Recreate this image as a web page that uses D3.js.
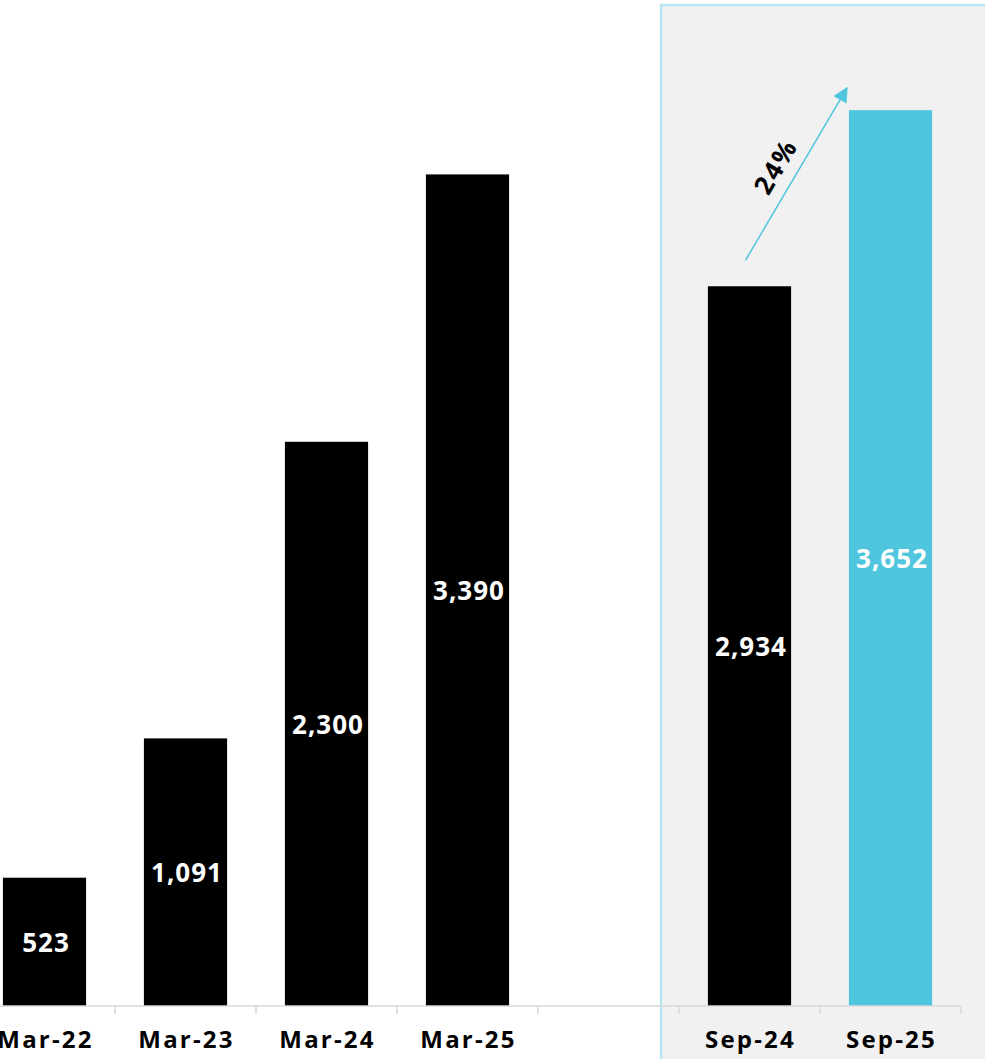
<!DOCTYPE html>
<html>
<head>
<meta charset="utf-8">
<script src="https://cdn.jsdelivr.net/npm/d3@7"></script>
<style>
  html, body { margin: 0; padding: 0; background: #ffffff; }
  svg { display: block; }
  text { font-family: "Open Sans", "Noto Sans", sans-serif; font-weight: 700; }
</style>
</head>
<body>
<svg id="chart" width="985" height="1059"></svg>
<script>
// Period labels (the blank slot separates the annual and half-year groups)
const categories = ["Mar-22", "Mar-23", "Mar-24", "Mar-25", "", "Sep-24", "Sep-25"];
const annualValues = [523, 1091, 2300, 3390];
const halfYearValues = [2934, 3652];
const annualLabels = ["Mar-22", "Mar-23", "Mar-24", "Mar-25"];
const halfYearLabels = ["Sep-24", "Sep-25"];

const bars = [
  ...annualLabels.map((c, i) => ({ cat: c, value: annualValues[i], color: "#000000" })),
  { cat: halfYearLabels[0], value: halfYearValues[0], color: "#000000" },
  { cat: halfYearLabels[1], value: halfYearValues[1], color: "#4FC5DE" }
];

const W = 985, H = 1059;
const baseY = 1006;
const svg = d3.select("#chart");

const x = d3.scaleBand()
  .domain(categories)
  .range([-26, 961])
  .paddingInner(0.41)
  .paddingOuter(0.205);

const y = d3.scaleLinear()
  .domain([0, 4101])
  .range([baseY, 0]);

const step = x.step();
const gap = step - x.bandwidth();
const slotLeft = c => x(c) - gap / 2;

// Shaded half-year panel
const panelX = slotLeft("Sep-24") - 18;
svg.append("rect")
  .attr("x", panelX)
  .attr("y", 5)
  .attr("width", W - panelX + 20)
  .attr("height", H)
  .attr("fill", "#f1f1f1")
  .attr("stroke", "#b8e6f0")
  .attr("stroke-width", 2.5);

// Bars
svg.append("g").selectAll("rect")
  .data(bars)
  .join("rect")
  .attr("x", d => x(d.cat))
  .attr("y", d => y(d.value))
  .attr("width", x.bandwidth())
  .attr("height", d => y(0) - y(d.value))
  .attr("fill", d => d.color);

// Value labels centred in each bar
svg.append("g").selectAll("text")
  .data(bars)
  .join("text")
  .attr("x", d => x(d.cat) + x.bandwidth() / 2 + 1.5)
  .attr("y", d => (y(d.value) + y(0)) / 2)
  .attr("text-anchor", "middle")
  .attr("dominant-baseline", "central")
  .attr("fill", "#ffffff")
  .attr("font-size", 26)
  .attr("letter-spacing", 1)
  .text(d => d3.format(",")(d.value));

// Category axis: baseline with separators at slot boundaries
const axisG = svg.append("g");
const bounds = categories.map(c => slotLeft(c)).concat([slotLeft(categories[categories.length - 1]) + step]);
axisG.append("line")
  .attr("x1", 0).attr("x2", bounds[bounds.length - 1])
  .attr("y1", baseY).attr("y2", baseY)
  .attr("stroke", "#d9d9d9").attr("stroke-width", 1.5);
axisG.selectAll("line.sep")
  .data(bounds.filter(b => b > 0))
  .join("line")
  .attr("class", "sep")
  .attr("x1", d => d).attr("x2", d => d)
  .attr("y1", baseY).attr("y2", baseY + 8)
  .attr("stroke", "#d9d9d9").attr("stroke-width", 1.5);

const labelAxis = svg.append("g")
  .attr("transform", `translate(0,${baseY})`)
  .call(d3.axisBottom(x).tickSize(0).tickPadding(25).tickValues(categories.filter(c => c)));
labelAxis.select(".domain").remove();
labelAxis.selectAll("text")
  .attr("font-family", "\"Open Sans\", sans-serif")
  .attr("font-weight", 700)
  .attr("font-size", 24)
  .attr("letter-spacing", 2.2)
  .attr("dx", 1)
  .attr("fill", "#000000");

// Growth arrow from Sep-24 to Sep-25
const growth = Math.round((halfYearValues[1] / halfYearValues[0] - 1) * 100);
const x0 = x("Sep-24") + x.bandwidth() / 2 - 4, y0 = y(halfYearValues[0]) - 26;
const x1 = x("Sep-25") - 2, y1 = y(halfYearValues[1]) - 22;

svg.append("defs").append("marker")
  .attr("id", "arrowHead")
  .attr("viewBox", "0 0 10 10")
  .attr("refX", 9).attr("refY", 5)
  .attr("markerWidth", 16).attr("markerHeight", 15)
  .attr("markerUnits", "userSpaceOnUse")
  .attr("orient", "auto")
  .append("path")
  .attr("d", "M0,0 L10,5 L0,10 Z")
  .attr("fill", "#4FC5DE");

svg.append("line")
  .attr("x1", x0).attr("y1", y0)
  .attr("x2", x1).attr("y2", y1)
  .attr("stroke", "#4FC5DE")
  .attr("stroke-width", 1.5)
  .attr("marker-end", "url(#arrowHead)");

const angle = Math.atan2(y1 - y0, x1 - x0) * 180 / Math.PI;
svg.append("text")
  .attr("transform", `translate(775,166) rotate(${angle})`)
  .attr("text-anchor", "middle")
  .attr("dominant-baseline", "central")
  .attr("font-size", 26)
  .attr("letter-spacing", 2)
  .attr("fill", "#000000")
  .text(growth + "%");
</script>
</body>
</html>
